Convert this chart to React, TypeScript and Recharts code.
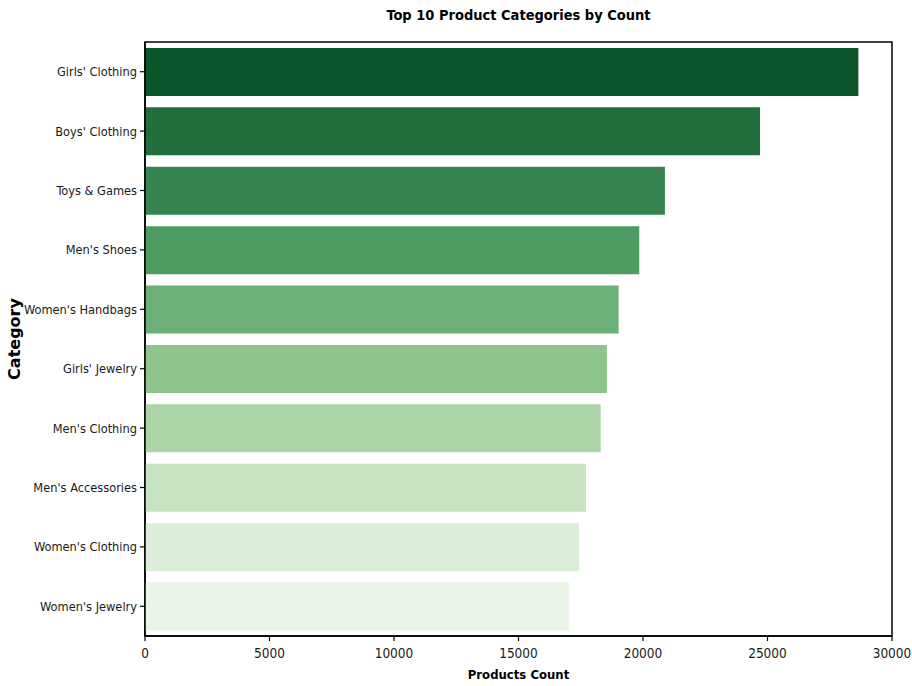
import React from 'react';
import { BarChart, Bar, XAxis, YAxis, Cell, ReferenceArea } from 'recharts';

const categories = [
  "Girls' Clothing",
  "Boys' Clothing",
  'Toys & Games',
  "Men's Shoes",
  "Women's Handbags",
  "Girls' Jewelry",
  "Men's Clothing",
  "Men's Accessories",
  "Women's Clothing",
  "Women's Jewelry",
];
const counts = [28650, 24700, 20880, 19850, 19020, 18550, 18300, 17710, 17430, 17040];
const barColors = [
  '#0d562b', '#1f6e3c', '#36844f', '#4f9c63', '#6bb078',
  '#8dc48b', '#abd5a6', '#c7e3c2', '#dbeed7', '#eaf5e8',
];
const xTicks = [0, 5000, 10000, 15000, 20000, 25000, 30000];

const data = categories.map((c, i) => ({ category: c, count: counts[i] }));

const condensed = '"DejaVu Sans Condensed", "DejaVu Sans", sans-serif';

const YLabel = (props: any) => {
  const vb = props.viewBox || {};
  const x = (vb.x ?? 0) + 14;
  const y = (vb.y ?? 0) + (vb.height ?? 0) / 2;
  return (
    <text
      x={x}
      y={y}
      transform={`rotate(-90, ${x}, ${y})`}
      textAnchor="middle"
      dominantBaseline="central"
      fontFamily='"DejaVu Sans", sans-serif'
      fontWeight="bold"
      fontSize={16}
      fill="#000"
    >
      Category
    </text>
  );
};

export default function App() {
  return (
    <div style={{ position: 'absolute', left: 0, top: 0, width: 912, height: 686, background: '#fff' }}>
      <div
        style={{
          position: 'absolute',
          left: 145,
          width: 747,
          top: 5,
          textAlign: 'center',
          fontFamily: condensed,
          fontWeight: 'bold',
          fontSize: 14.5,
          color: '#000',
          lineHeight: '20px',
        }}
      >
        Top 10 Product Categories by Count
      </div>
      <BarChart
        width={912}
        height={686}
        data={data}
        layout="vertical"
        margin={{ top: 42, right: 20, bottom: 0, left: 0 }}
        barCategoryGap="10%"
      >
        <XAxis
          type="number"
          dataKey="count"
          domain={[0, 30000]}
          ticks={xTicks}
          height={50}
          tickSize={5}
          tickMargin={7}
          axisLine={{ stroke: '#000', strokeWidth: 1.5 }}
          tickLine={{ stroke: '#000', strokeWidth: 1.2 }}
          tick={{ fill: '#1a1a1a', fontSize: 13.5, fontFamily: condensed }}
          label={{
            value: 'Products Count',
            position: 'insideBottom',
            offset: 7,
            fill: '#000',
            fontSize: 13,
            fontWeight: 'bold',
            fontFamily: condensed,
          }}
        />
        <YAxis
          type="category"
          dataKey="category"
          width={145}
          tickSize={5}
          tickMargin={3}
          axisLine={{ stroke: '#000', strokeWidth: 1.5 }}
          tickLine={{ stroke: '#000', strokeWidth: 1.2 }}
          tick={{ fill: '#1a1a1a', fontSize: 12.7, fontFamily: condensed }}
          label={<YLabel />}
        />
        <Bar dataKey="count" isAnimationActive={false}>
          {data.map((d, i) => (
            <Cell key={d.category} fill={barColors[i]} />
          ))}
        </Bar>
        <ReferenceArea
          x1={0}
          x2={30000}
          fill="none"
          fillOpacity={0}
          stroke="#000"
          strokeWidth={1.5}
          ifOverflow="visible"
        />
      </BarChart>
    </div>
  );
}
